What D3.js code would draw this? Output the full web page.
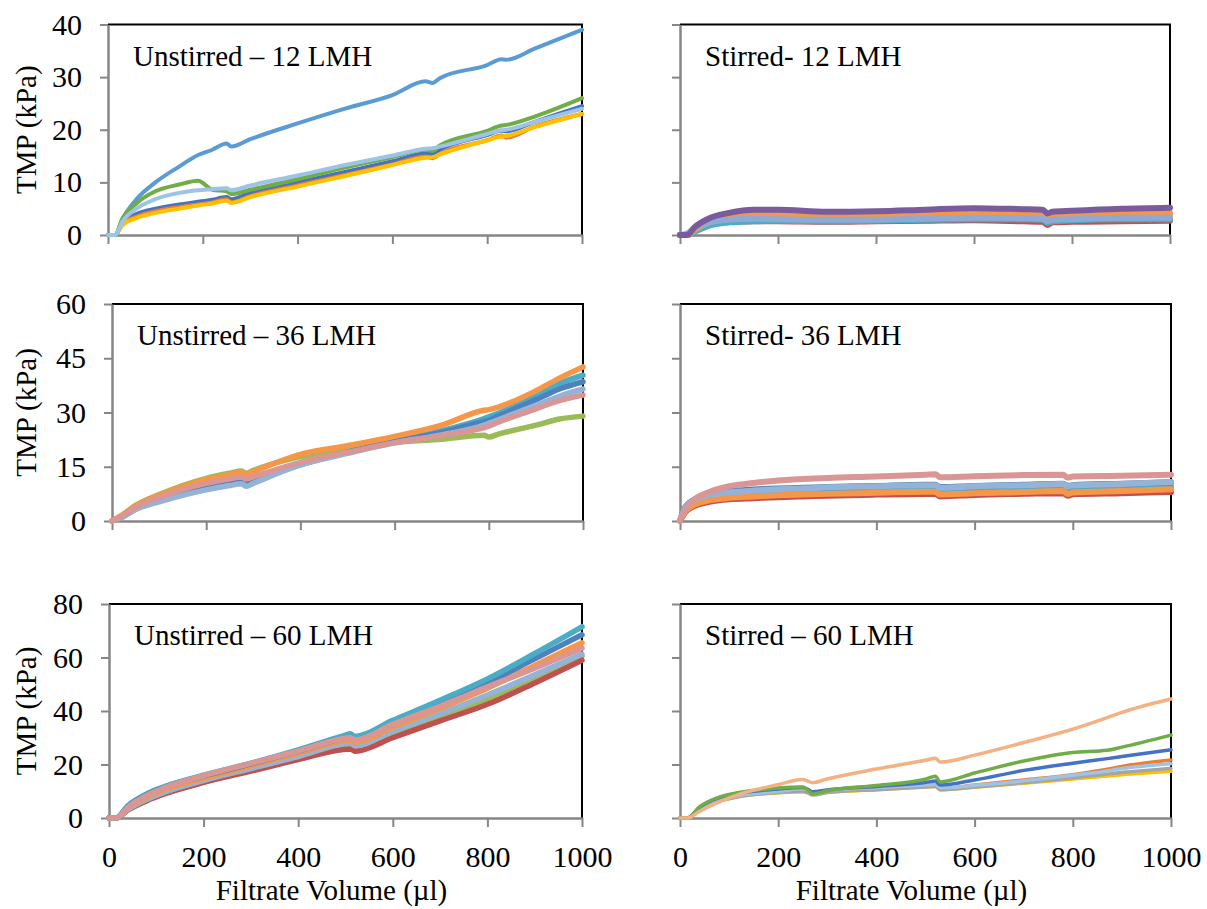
<!DOCTYPE html>
<html>
<head>
<meta charset="utf-8">
<script src="https://cdn.jsdelivr.net/npm/d3@7"></script>
<style>
  body { margin: 0; background: #fff; }
  svg text { font-family: "Liberation Serif", "Times New Roman", serif !important; fill: #000; }
</style>
</head>
<body>
<svg id="chart" width="1207" height="909"></svg>
<script>
// ---- data ----
const xTicks = [0, 200, 400, 600, 800, 1000];

// Unstirred – 12 LMH
const p1X      = [0, 15, 30, 60, 100, 150, 190, 220, 250, 260, 300, 400, 500, 600, 670, 685, 700, 800, 830, 840, 900, 1000];
const p1Blue   = [0, 0, 2.3, 4, 5, 5.8, 6.3, 6.7, 7.2, 6.8, 8, 10, 12, 14, 15.5, 15.4, 16.2, 19, 19.8, 19.7, 21.5, 24.5];
const p1Orange = [0, 0, 2, 3.5, 4.5, 5.3, 5.8, 6.2, 6.8, 6.2, 7.4, 9.4, 11.4, 13.4, 14.9, 14.6, 15.4, 18, 18.9, 18.5, 20.6, 23];
const p1Yellow = [0, 0, 1.8, 3.2, 4.2, 5, 5.6, 6, 6.5, 6.1, 7.2, 9.2, 11.2, 13.3, 14.7, 14.8, 15.3, 18, 18.7, 18.8, 20.5, 23];
const p1Steel  = [0, 0, 3, 6.8, 10, 13, 15.2, 16.2, 17.4, 16.8, 18.2, 21.2, 24, 26.6, 29.2, 28.9, 29.8, 32.3, 33.4, 33.3, 35.4, 39];
const p1Green  = [0, 0, 3, 6, 8.3, 9.6, 10.3, 8.6, 8.3, 7.8, 8.6, 10.6, 12.8, 14.8, 16.2, 16, 17, 19.8, 20.8, 20.9, 22.5, 26];
const p1Light  = [0, 0, 2.5, 5, 6.8, 8, 8.5, 8.7, 8.9, 8.5, 9.4, 11.3, 13.3, 15.1, 16.4, 16.5, 16.8, 19.2, 19.9, 20, 21.5, 24];

// Stirred- 12 LMH
const p2X      = [0, 15, 30, 60, 100, 150, 200, 300, 400, 500, 600, 700, 740, 750, 760, 800, 900, 1000];
const p2Red    = [0, 0, 0.8, 2, 2.5, 2.6, 2.6, 2.5, 2.6, 2.7, 2.8, 2.6, 2.5, 1.9, 2.4, 2.5, 2.6, 2.7];
const p2Teal   = [0, 0, 0.6, 1.8, 2.4, 2.6, 2.7, 2.6, 2.7, 2.9, 3, 3, 2.9, 2.3, 2.6, 2.8, 3, 3];
const p2Green  = [0, 0, 1, 2.4, 3.3, 3.7, 3.8, 3.7, 3.7, 3.9, 3.9, 3.9, 3.9, 3.4, 3.6, 3.7, 3.8, 3.8];
const p2Orange = [0, 0, 1, 2.5, 3.4, 3.8, 3.8, 3.6, 3.6, 3.9, 4, 4, 3.9, 3.4, 3.7, 3.8, 4.1, 4.2];
const p2Light  = [0, 0.3, 1.4, 2.4, 2.9, 3.1, 3, 2.9, 2.9, 3.1, 3.3, 3.2, 3.1, 2.6, 2.9, 3, 3.3, 3.3];
const p2Purple = [0, 0, 1.5, 3.2, 4.2, 4.8, 4.8, 4.4, 4.5, 4.8, 5.1, 4.9, 4.8, 4.1, 4.4, 4.6, 5, 5.2];

// Unstirred – 36 LMH
const p3X      = [0, 20, 50, 100, 150, 200, 250, 275, 285, 300, 400, 500, 600, 700, 790, 800, 820, 900, 950, 1000];
const p3Green  = [0, 1.5, 4.3, 7.3, 9.8, 11.8, 13.2, 13.8, 13.2, 14, 17.8, 20, 21.7, 22.6, 23.7, 23.2, 24, 26.5, 28.2, 29];
const p3Teal   = [0, 1, 3.3, 5.5, 7.3, 8.8, 10, 10.6, 10, 10.8, 15.5, 19, 22, 25, 28.3, 28.8, 29.8, 34.5, 38, 40.3];
const p3Blue   = [0, 1, 3.4, 5.6, 7.5, 9, 10.3, 10.8, 10.2, 11, 15.7, 19, 22, 24.5, 27.5, 27.8, 29, 33.5, 36.5, 38.5];
const p3Light  = [0, 1, 3.2, 5.3, 7.1, 8.6, 9.8, 10.3, 9.6, 10.4, 15.5, 18.7, 21.6, 23.8, 26.5, 27, 28, 32, 34.5, 36.5];
const p3Orange = [0, 1.5, 4.2, 7.1, 9.5, 11.4, 12.8, 13.4, 12.8, 13.6, 18.4, 20.8, 23.4, 26.5, 30.6, 30.8, 31.5, 36, 39.5, 42.6];
const p3Pink   = [0, 1.2, 3.8, 6.5, 8.7, 10.4, 11.7, 12.2, 11.6, 12.2, 16.2, 19, 21.6, 23.6, 25.8, 26.2, 27.3, 31, 33.3, 34.8];

// Stirred- 36 LMH
const p4X      = [0, 10, 30, 60, 100, 150, 200, 250, 300, 400, 500, 520, 530, 600, 700, 780, 790, 800, 900, 1000];
const p4Red    = [0, 2.3, 4.2, 5.3, 6, 6.3, 6.6, 6.8, 7, 7.3, 7.5, 7.5, 6.8, 7.2, 7.5, 7.7, 7, 7.4, 7.7, 8];
const p4Orange = [0, 2.5, 4.5, 5.7, 6.4, 6.8, 7.1, 7.3, 7.5, 7.8, 8.1, 8.1, 7.3, 7.7, 8, 8.3, 7.5, 7.9, 8.3, 8.8];
const p4Teal   = [0, 3.2, 5.2, 6.4, 7.1, 7.5, 7.8, 8, 8.2, 8.5, 8.7, 8.7, 8.1, 8.5, 8.8, 9, 8.4, 8.7, 9.1, 9.5];
const p4Blue   = [0, 3.8, 6, 7.4, 8.2, 8.7, 9, 9.2, 9.4, 9.7, 10, 10, 9.4, 9.7, 10, 10.3, 9.7, 9.9, 10.3, 10.7];
const p4Light  = [0, 3.5, 5.8, 7.2, 7.9, 8.4, 8.8, 9, 9.3, 9.6, 9.9, 9.9, 9.2, 9.6, 9.9, 10.2, 9.6, 9.8, 10.2, 10.8];
const p4Pink   = [0, 3, 6, 8, 9.6, 10.5, 11.2, 11.6, 11.9, 12.3, 12.8, 12.9, 12.1, 12.4, 12.7, 12.8, 12, 12.3, 12.5, 12.8];

// Unstirred – 60 LMH
const p5X      = [0, 15, 40, 80, 120, 200, 300, 400, 500, 510, 520, 600, 700, 800, 900, 1000];
const p5Green  = [0, 0, 3, 6.6, 9.3, 13.4, 17.8, 22, 26.3, 26.4, 25.6, 31, 37.5, 44.5, 52.5, 60.5];
const p5Red    = [0, 0, 3, 6.5, 9.2, 13.3, 17.5, 21.8, 25.7, 25.8, 25, 30, 36.3, 42.5, 50.5, 59];
const p5Light  = [0, 0, 3.2, 7, 9.8, 14, 18.5, 23, 27.8, 28, 27, 32.5, 39, 46, 53.5, 61.3];
const p5Orange = [0, 0, 3.8, 7.8, 10.8, 14.8, 19.5, 24.3, 29, 29.2, 28.3, 34, 41, 48.5, 57, 65.5];
const p5Blue   = [0, 0, 4.6, 9, 11.8, 15.7, 20.2, 25, 30, 30.3, 29.5, 35.5, 42.5, 50.5, 59.5, 68.5];
const p5Teal   = [0, 0, 4.3, 8.8, 11.8, 16, 20.5, 25.5, 31, 31.5, 30.5, 36.5, 44, 52, 61.5, 71.5];
const p5Pink   = [0, 0, 4, 8.3, 11.4, 15.8, 20.4, 25, 29.8, 30, 29.2, 35, 41.8, 49, 56, 63.5];

// Stirred – 60 LMH
const p6X      = [0, 15, 40, 80, 120, 200, 250, 260, 270, 300, 400, 500, 520, 530, 600, 700, 800, 870, 900, 1000];
const p6Salmon = [0, 0, 2.5, 6, 8.8, 12.5, 14.4, 13.8, 13.2, 14.6, 18.3, 21.6, 22.3, 20.9, 23.5, 28.2, 33.2, 37.5, 39.5, 44.5];
const p6Green  = [0, 0, 4.2, 7.8, 9.5, 11.2, 11.6, 10.5, 9, 10.2, 12.2, 14.5, 15.6, 13.5, 16.8, 21.3, 24.5, 25.3, 26.5, 31];
const p6Blue   = [0, 0, 4, 7.6, 9.3, 10.8, 11.4, 10.8, 9.8, 10.5, 11.8, 13.3, 13.8, 12.3, 14.2, 17.8, 20.5, 22.2, 23, 25.5];
const p6Orange = [0, 0, 3.5, 6.9, 8.6, 10.2, 10.7, 10.2, 9.5, 10.2, 11.2, 12.3, 12.5, 11, 12.3, 14.2, 16.2, 18.2, 19.3, 21.7];
const p6Gray   = [0, 0, 3.2, 6.3, 8, 9.5, 9.9, 9.5, 8.6, 9.5, 10.6, 11.6, 11.8, 10.6, 11.6, 13.2, 15, 16.4, 17, 18.5];
const p6Yellow = [0, 0, 3.2, 6.3, 8, 9.4, 9.8, 9.4, 9, 9.6, 10.6, 11.6, 11.8, 10.6, 11.5, 13, 14.6, 15.7, 16.2, 17.5];
const p6Light  = [0, 0, 3.3, 6.6, 8.4, 10, 10.8, 10.5, 9.6, 10.3, 11.3, 12.3, 12.5, 11.2, 12.2, 13.9, 16, 17.6, 18.5, 20.3];

// ---- panels ----
const panels = [
  { label: 'Unstirred – 12 LMH', x: p1X, yTicks: [0, 10, 20, 30, 40], sw: 4,
    box: { l: 108, r: 582, t: 24.5, b: 235 }, yLab: true, xLab: false,
    series: [[p1Blue, '#4472C4'], [p1Orange, '#ED7D31'], [p1Yellow, '#FFC000'],
             [p1Steel, '#5B9BD5'], [p1Green, '#70AD47'], [p1Light, '#9DC3E6']] },
  { label: 'Stirred- 12 LMH', x: p2X, yTicks: [0, 10, 20, 30, 40], sw: 6,
    box: { l: 680, r: 1170, t: 24.5, b: 235 }, yLab: false, xLab: false,
    series: [[p2Red, '#C0504D'], [p2Teal, '#4BACC6'], [p2Green, '#9BBB59'],
             [p2Orange, '#F79646'], [p2Light, '#8EA9D4'], [p2Purple, '#7A5C9E']] },
  { label: 'Unstirred – 36 LMH', x: p3X, yTicks: [0, 15, 30, 45, 60], sw: 5.5,
    box: { l: 112, r: 583, t: 304, b: 521 }, yLab: true, xLab: false,
    series: [[p3Green, '#9BBB59'], [p3Teal, '#4BACC6'], [p3Blue, '#4F81BD'],
             [p3Light, '#95B3D7'], [p3Orange, '#F79646'], [p3Pink, '#D99694']] },
  { label: 'Stirred- 36 LMH', x: p4X, yTicks: [0, 15, 30, 45, 60], sw: 6,
    box: { l: 680, r: 1171, t: 304, b: 521 }, yLab: false, xLab: false,
    series: [[p4Red, '#C0504D'], [p4Teal, '#4BACC6'], [p4Orange, '#F79646'],
             [p4Blue, '#4F81BD'], [p4Light, '#95B3D7'], [p4Pink, '#D99694']] },
  { label: 'Unstirred – 60 LMH', x: p5X, yTicks: [0, 20, 40, 60, 80], sw: 5.5,
    box: { l: 109, r: 582, t: 604, b: 818 }, yLab: true, xLab: true,
    series: [[p5Green, '#9BBB59'], [p5Red, '#C0504D'], [p5Light, '#95B3D7'],
             [p5Orange, '#F79646'], [p5Blue, '#4F81BD'], [p5Teal, '#4BACC6'], [p5Pink, '#D99694']] },
  { label: 'Stirred – 60 LMH', x: p6X, yTicks: [0, 20, 40, 60, 80], sw: 3.5,
    box: { l: 680, r: 1171, t: 604, b: 818 }, yLab: false, xLab: true,
    series: [[p6Yellow, '#FFC000'], [p6Gray, '#A5A5A5'], [p6Orange, '#ED7D31'], [p6Light, '#9DC3E6'],
             [p6Blue, '#4472C4'], [p6Green, '#70AD47'], [p6Salmon, '#F4B183']] }
];

const svg = d3.select('#chart');
const axisColor = '#868686';
const serif = '"Liberation Serif", "Times New Roman", serif';

panels.forEach(p => {
  const b = p.box;
  const x = d3.scaleLinear().domain([0, 1000]).range([b.l, b.r]);
  const y = d3.scaleLinear().domain([0, d3.max(p.yTicks)]).range([b.b, b.t]);
  const g = svg.append('g');

  // top & right frame (black)
  g.append('path')
    .attr('d', `M${b.l},${b.t}H${b.r}V${b.b}`)
    .attr('fill', 'none')
    .attr('stroke', '#000')
    .attr('stroke-width', 2);

  // y axis
  const yAxis = g.append('g')
    .attr('transform', `translate(${b.l},0)`)
    .call(d3.axisLeft(y).tickValues(p.yTicks).tickSize(8).tickSizeOuter(0).tickPadding(18)
      .tickFormat(p.yLab ? d3.format('d') : () => ''));

  // x axis
  const xAxis = g.append('g')
    .attr('transform', `translate(0,${b.b})`)
    .call(d3.axisBottom(x).tickValues(xTicks).tickSize(9).tickSizeOuter(0).tickPadding(19)
      .tickFormat(p.xLab ? d3.format('d') : () => ''));

  [yAxis, xAxis].forEach(a => {
    a.attr('font-family', serif).attr('font-size', 30);
    a.select('.domain').attr('stroke', axisColor).attr('stroke-width', 2.5);
    a.selectAll('.tick line').attr('stroke', axisColor).attr('stroke-width', 2);
    a.selectAll('.tick text')
      .style('font-family', serif)
      .style('font-size', '30px')
      .attr('fill', '#000');
  });

  // series lines
  const line = d3.line()
    .x((d, i) => x(p.x[i]))
    .y(d => y(d))
    .curve(d3.curveMonotoneX);

  g.append('g')
    .selectAll('path')
    .data(p.series)
    .join('path')
    .attr('d', d => line(d[0]))
    .attr('fill', 'none')
    .attr('stroke', d => d[1])
    .attr('stroke-width', p.sw)
    .attr('stroke-linejoin', 'round')
    .attr('stroke-linecap', 'round');

  // panel label
  g.append('text')
    .attr('x', b.l + 25)
    .attr('y', b.t + 41)
    .style('font-size', '29px')
    .text(p.label);

  // y title
  if (p.yLab) {
    g.append('text')
      .attr('transform', `translate(36,${(b.t + b.b) / 2}) rotate(-90)`)
      .attr('text-anchor', 'middle')
      .style('font-size', '29px')
      .text('TMP (kPa)');
  }

  // x title
  if (p.xLab) {
    g.append('text')
      .attr('x', (b.l + b.r) / 2 - 14)
      .attr('y', 900)
      .attr('text-anchor', 'middle')
      .style('font-size', '29px')
      .text('Filtrate Volume (µl)');
  }
});
</script>
</body>
</html>
